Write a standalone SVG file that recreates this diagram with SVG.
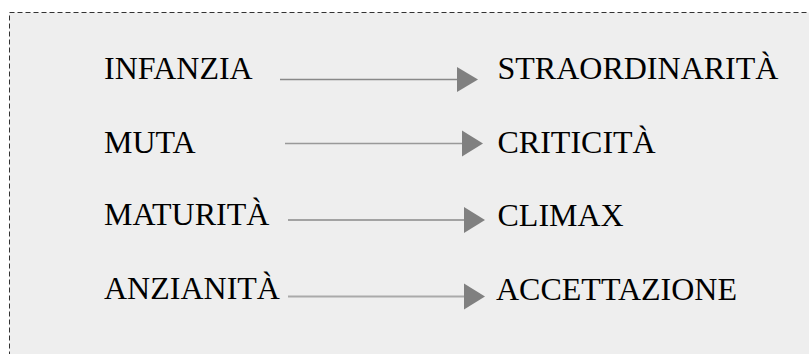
<svg xmlns="http://www.w3.org/2000/svg" width="809" height="354" viewBox="0 0 809 354">
<defs>
<style>
.t{font-family:"Liberation Serif","Times New Roman",serif;font-size:32px;fill:#000}
.ln{stroke:#888;stroke-width:1.5;fill:none}
.hd{fill:#808080;stroke:none}
</style>
</defs>
<rect x="9.5" y="12.5" width="820" height="360" fill="#eeeeee" stroke="#333" stroke-width="1" stroke-dasharray="5 3"/>
<g id="node-infanzia"><text class="t" x="104" y="79">INFANZIA</text></g>
<g id="node-muta"><text class="t" x="104" y="153">MUTA</text></g>
<g id="node-maturita"><text class="t" x="104" y="225">MATURITÀ</text></g>
<g id="node-anzianita"><text class="t" x="104" y="299">ANZIANITÀ</text></g>
<g id="node-straordinarita"><text class="t" x="497.5" y="79">STRAORDINARITÀ</text></g>
<g id="node-criticita"><text class="t" x="497.5" y="153">CRITICITÀ</text></g>
<g id="node-climax"><text class="t" x="497.5" y="226">CLIMAX</text></g>
<g id="node-accettazione"><text class="t" x="496" y="300">ACCETTAZIONE</text></g>
<g id="connectors">
<line class="ln" x1="280" y1="79.5" x2="458" y2="79.5"/>
<polygon class="hd" points="457,67 478,79.5 457,92"/>
<line class="ln" x1="285" y1="143.5" x2="463" y2="143.5" style="stroke:#999"/>
<polygon class="hd" points="462,130.5 483,143.5 462,156.5"/>
<line class="ln" x1="288" y1="220" x2="465" y2="220"/>
<polygon class="hd" points="464,207 485,220 464,233"/>
<line class="ln" x1="288" y1="296.5" x2="465" y2="296.5" style="stroke:#aaa;stroke-width:2"/>
<polygon class="hd" points="464,283.5 485,296.5 464,309.5"/>
</g>
</svg>
